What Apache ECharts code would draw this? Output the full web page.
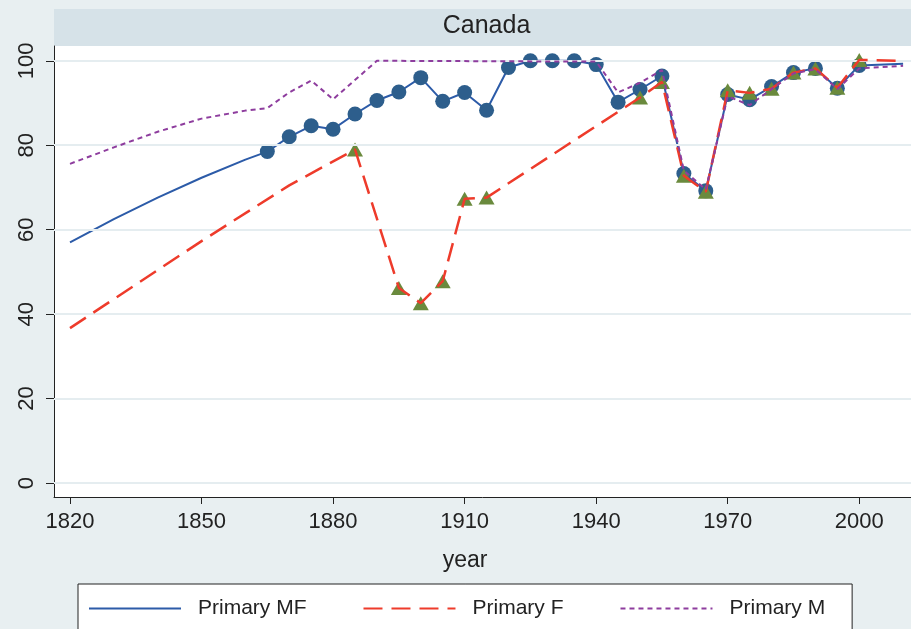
<!DOCTYPE html>
<html>
<head>
<meta charset="utf-8">
<script src="https://cdn.jsdelivr.net/npm/echarts@6/dist/echarts.min.js"></script>
<style>
html,body{margin:0;padding:0;background:#e8eff1;}
#chart{width:911px;height:629px;}
</style>
</head>
<body>
<div id="chart"></div>
<script>
// ---- data ----
const chartTitle = 'Canada';
const xTicks = [1820, 1850, 1880, 1910, 1940, 1970, 2000];
const yTicks = [0, 20, 40, 60, 80, 100];

const mfYears = [1820,1830,1840,1850,1860,1865,1870,1875,1880,1885,1890,1895,1900,1905,1910,1915,1920,1925,1930,1935,1940,1945,1950,1955,1960,1965,1970,1975,1980,1985,1990,1995,2000,2010];
const mfValues = [57.0,62.5,67.6,72.3,76.6,78.5,82.0,84.6,83.8,87.4,90.6,92.6,96.0,90.4,92.5,88.3,98.4,100,100,100,99.1,90.2,93.2,96.4,73.3,69.2,92.0,90.8,93.9,97.2,98.2,93.5,98.9,99.3];
const mfMarkerRange = [1865, 2000];

const fYears = [1820,1850,1870,1885,1895,1900,1905,1910,1915,1950,1955,1960,1965,1970,1975,1980,1985,1990,1995,2000,2010];
const fValues = [36.7,57.3,70.5,79.0,46.2,42.6,47.8,67.3,67.6,91.3,95.0,72.8,69.0,93.0,92.4,93.4,97.2,98.2,93.6,100.2,100.0];
const fMarkerRange = [1885, 2000];

const mYears = [1820,1830,1840,1850,1860,1865,1870,1875,1880,1890,1940,1945,1950,1955,1960,1965,1970,1975,1980,1985,1990,1995,2000,2010];
const mValues = [75.6,79.5,83.2,86.3,88.2,88.8,92.5,95.3,90.9,100,99.8,92.5,94.8,97.8,74.0,69.5,91.6,89.5,93.3,97.0,98.0,93.3,98.2,98.8];

const seriesNames = ['Primary MF', 'Primary F', 'Primary M'];

// ---- build ----
function pairs(xs, ys) { return xs.map((x, i) => [x, ys[i]]); }
function marked(xs, ys, r) { return pairs(xs, ys).filter(p => p[0] >= r[0] && p[0] <= r[1]); }

const FONT = 'Liberation Sans, Arial, sans-serif';
const axisColor = '#222';
const chart = echarts.init(document.getElementById('chart'), null, {renderer: 'canvas'});

chart.setOption({
  backgroundColor: '#e8eff1',
  animation: false,
  grid: {left: 54, top: 46, right: 0, bottom: 132, containLabel: false, show: true, backgroundColor: '#ffffff', borderWidth: 0},
  graphic: [
    {type: 'rect', left: 54, top: 9, shape: {width: 857, height: 37}, style: {fill: '#d6e2e8'}, z: 0},
    {type: 'text', x: 486.5, y: 26, style: {text: chartTitle, fill: '#222', font: '25px ' + FONT, textAlign: 'center', textVerticalAlign: 'middle'}},
    {type: 'text', x: 465, y: 561, style: {text: 'year', fill: '#222', font: '23px ' + FONT, textAlign: 'center', textVerticalAlign: 'middle'}}
  ],
  xAxis: {
    type: 'value',
    min: 1816.35, max: 2011.8,
    axisLine: {show: true, onZero: false, lineStyle: {color: axisColor, width: 1}},
    axisTick: {show: true, customValues: xTicks, length: 7, lineStyle: {color: axisColor}},
    axisLabel: {customValues: xTicks, formatter: v => String(v), fontFamily: FONT, fontSize: 22, color: '#222', margin: 14},
    splitLine: {show: false}
  },
  yAxis: {
    type: 'value',
    min: -3.3, max: 103.5,
    axisLine: {show: true, onZero: false, lineStyle: {color: axisColor, width: 1}},
    axisTick: {show: true, customValues: yTicks, length: 8, lineStyle: {color: axisColor}},
    axisLabel: {customValues: yTicks, formatter: v => String(v), rotate: 90, fontFamily: FONT, fontSize: 22, color: '#222', margin: 16},
    splitLine: {show: false}
  },
  legend: {
    left: 78, top: 584,
    data: seriesNames,
    backgroundColor: '#ffffff',
    borderColor: '#222', borderWidth: 1, borderRadius: 0,
    padding: [14, 27, 20, 10],
    itemGap: 56,
    itemWidth: 92, itemHeight: 20,
    itemStyle: {opacity: 0},
    textStyle: {fontFamily: FONT, fontSize: 21, color: '#222', padding: [0, 0, 0, 12]}
  },
  series: [
    {
      type: 'line', name: '_grid', silent: true, z: 1,
      data: yTicks.map(v => [xTicks[0], v]),
      showSymbol: false, symbol: 'none', lineStyle: {opacity: 0},
      markLine: {
        silent: true, symbol: 'none', label: {show: false}, animation: false,
        lineStyle: {color: '#e5edf0', width: 2, type: 'solid'},
        data: yTicks.map(v => ({yAxis: v}))
      }
    },
    {
      type: 'line', name: seriesNames[0], data: pairs(mfYears, mfValues),
      showSymbol: false, symbol: 'none', z: 2,
      lineStyle: {color: '#2c5ba8', width: 2}, itemStyle: {color: '#2c5ba8'}
    },
    {
      type: 'scatter', name: 'mfMarkers', data: marked(mfYears, mfValues, mfMarkerRange),
      symbol: 'circle', symbolSize: 15, z: 3,
      itemStyle: {color: '#2d5e8c', opacity: 1}
    },
    {
      type: 'scatter', name: 'fMarkers', data: marked(fYears, fValues, fMarkerRange),
      symbol: 'triangle', symbolSize: [16, 14], z: 4,
      itemStyle: {color: '#6a8a3d', opacity: 1}
    },
    {
      type: 'line', name: seriesNames[1], data: pairs(fYears, fValues),
      showSymbol: false, symbol: 'none', z: 5,
      lineStyle: {color: '#ee3b2b', width: 2.5, type: [19, 9]}, itemStyle: {color: '#ee3b2b'}
    },
    {
      type: 'line', name: seriesNames[2], data: pairs(mYears, mValues),
      showSymbol: false, symbol: 'none', z: 6,
      lineStyle: {color: '#8e3d9e', width: 2, type: [5, 4]}, itemStyle: {color: '#8e3d9e'}
    }
  ]
});
</script>
</body>
</html>
